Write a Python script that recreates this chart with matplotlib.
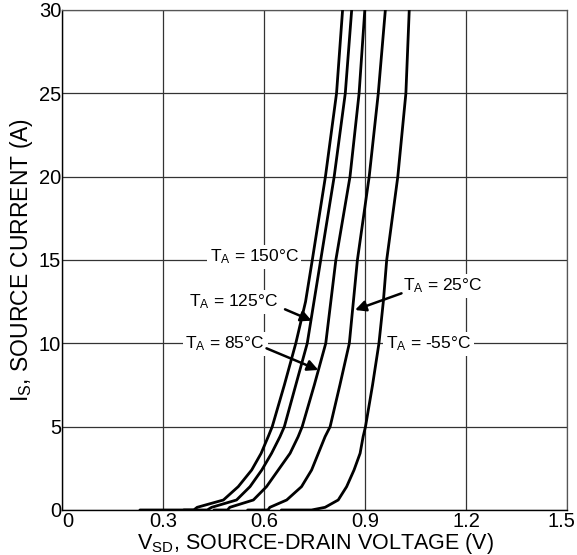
import matplotlib
matplotlib.use("Agg")
import matplotlib.pyplot as plt
from matplotlib.transforms import offset_copy

plt.rcParams['font.family'] = ['Liberation Sans', 'DejaVu Sans']
plt.rcParams['mathtext.default'] = 'regular'

# source current points (A)
i_pts = [0, 0, 0.16, 0.6, 1.4, 2.4, 3.4, 4.4, 5, 7.5, 10, 12.5, 15, 20, 25, 30]

# source-drain voltage per temperature (V), one value per i_pts entry
v_150 = [0.23, 0.39, 0.40, 0.478, 0.522, 0.562, 0.590, 0.611, 0.623,
         0.659, 0.693, 0.722, 0.742, 0.781, 0.814, 0.832]
v_125 = [0.36, 0.43, 0.443, 0.517, 0.557, 0.592, 0.621, 0.646, 0.659,
         0.693, 0.727, 0.747, 0.767, 0.807, 0.840, 0.859]
v_85 = [0.45, 0.49, 0.497, 0.567, 0.606, 0.641, 0.676, 0.700, 0.712,
        0.748, 0.782, 0.797, 0.812, 0.854, 0.881, 0.898]
v_25 = [0.55, 0.61, 0.616, 0.666, 0.710, 0.740, 0.760, 0.780, 0.795,
        0.824, 0.852, 0.864, 0.876, 0.911, 0.938, 0.959]
v_m55 = [0.65, 0.74, 0.780, 0.819, 0.844, 0.866, 0.884, 0.893, 0.900,
         0.921, 0.940, 0.953, 0.963, 0.996, 1.020, 1.030]

x_ticks = [0, 0.3, 0.6, 0.9, 1.2, 1.5]
x_tick_labels = ["0", "0.3", "0.6", "0.9", "1.2", "1.5"]
y_ticks = [0, 5, 10, 15, 20, 25, 30]

fig = plt.figure(figsize=(5.77, 5.55), dpi=100)
ax = fig.add_axes([0.1083, 0.0811, 0.8752, 0.9009])

for v in (v_150, v_125, v_85, v_25, v_m55):
    ax.plot(v, i_pts, color="black", lw=2.0, solid_joinstyle="round",
            solid_capstyle="round", zorder=3)

ax.set_xlim(0, 1.5)
ax.set_ylim(0, 30)
ax.set_xticks(x_ticks)
ax.set_xticklabels(x_tick_labels)
ax.set_yticks(y_ticks)
ax.tick_params(length=0, labelsize=14.5)
ax.tick_params(axis="x", pad=1.5)
ax.tick_params(axis="y", pad=1)
ax.grid(True, color="#333333", lw=0.9)
for side in ("top", "right"):
    ax.spines[side].set_color("#555555")
    ax.spines[side].set_linewidth(0.9)
for side in ("left", "bottom"):
    ax.spines[side].set_color("black")
    ax.spines[side].set_linewidth(1.0)

# first x label sits right of the axis start, last one pulled inside the figure
xlabs = ax.get_xticklabels()
xlabs[0].set_horizontalalignment("left")
xlabs[-1].set_transform(offset_copy(xlabs[-1].get_transform(), fig=fig,
                                    x=-6, units="dots"))

ax.set_xlabel("V$_{SD}$, SOURCE-DRAIN VOLTAGE (V)", fontsize=15.5, labelpad=0)
ax.set_ylabel("I$_{S}$, SOURCE CURRENT (A)", fontsize=16.5, labelpad=3)

box = dict(facecolor="white", edgecolor="none", pad=2)
arrow = dict(arrowstyle="-|>", color="black", lw=1.8, mutation_scale=16,
             shrinkA=0, shrinkB=0)

ax.text(0.569, 15.2, "T$_A$ = 150°C", fontsize=12.5, ha="center", va="center",
        bbox=box, zorder=4)
ax.text(0.509, 12.5, "T$_A$ = 125°C", fontsize=12.5, ha="center", va="center",
        bbox=box, zorder=4)
ax.text(0.483, 9.96, "T$_A$ = 85°C", fontsize=12.5, ha="center", va="center",
        bbox=box, zorder=4)
ax.text(1.130, 13.44, "T$_A$ = 25°C", fontsize=12.5, ha="center", va="center",
        bbox=box, zorder=4)
ax.text(1.088, 9.96, "T$_A$ = -55°C", fontsize=12.5, ha="center", va="center",
        bbox=box, zorder=4)

ax.annotate("", xy=(0.740, 11.36), xytext=(0.661, 12.04), arrowprops=arrow, zorder=5)
ax.annotate("", xy=(0.760, 8.40), xytext=(0.606, 9.70), arrowprops=arrow, zorder=5)
ax.annotate("", xy=(0.869, 12.0), xytext=(1.007, 13.0), arrowprops=arrow, zorder=5)

fig.savefig("out.png", dpi=100)
